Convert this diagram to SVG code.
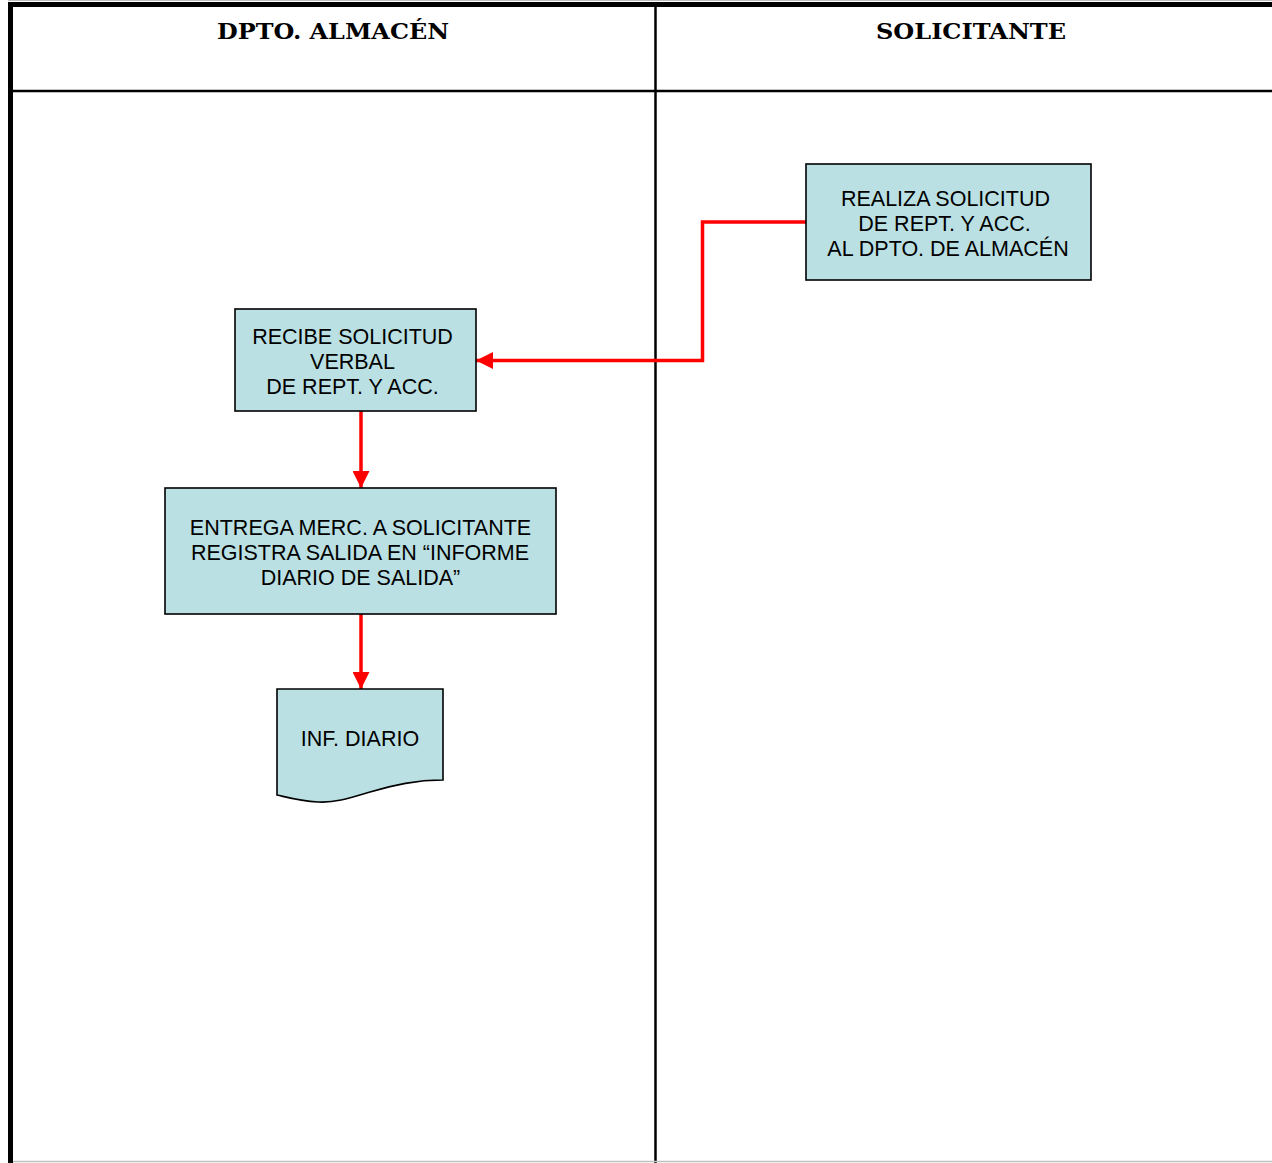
<svg xmlns="http://www.w3.org/2000/svg" width="1272" height="1163" viewBox="0 0 1272 1163">
  <style>
    .lane-title { font-family: "DejaVu Serif", "Liberation Serif", serif; font-weight: bold; font-size: 23px; fill: #000; }
    .box { fill: #BBE0E3; stroke: #000; stroke-width: 1.6; }
    .label { font-family: "Liberation Sans", Arial, sans-serif; font-size: 21.5px; fill: #000; text-anchor: middle; }
    .flow { fill: none; stroke: #FF0000; stroke-width: 3.5; marker-end: url(#arrow); }
  </style>
  <defs>
    <marker id="arrow" markerWidth="17" markerHeight="17" refX="17" refY="8.5" orient="auto" markerUnits="userSpaceOnUse">
      <path d="M0,0 L17,8.5 L0,17 Z" fill="#FF0000"/>
    </marker>
  </defs>

  <rect width="1272" height="1163" fill="#FFFFFF"/>

  <!-- swimlane table -->
  <g id="lanes">
    <line x1="8" y1="0.5" x2="1272" y2="0.5" stroke="#BDBDBD" stroke-width="1"/>
    <line x1="8" y1="4.5" x2="1272" y2="4.5" stroke="#000" stroke-width="5"/>
    <line x1="10.5" y1="2" x2="10.5" y2="1163" stroke="#000" stroke-width="5"/>
    <line x1="8" y1="91" x2="1272" y2="91" stroke="#000" stroke-width="2.5"/>
    <line x1="655.5" y1="4" x2="655.5" y2="1163" stroke="#000" stroke-width="2.5"/>
    <line x1="13" y1="1161.5" x2="1272" y2="1161.5" stroke="#C0C0C0" stroke-width="1.5"/>
    <text class="lane-title" x="333" y="39" text-anchor="middle" textLength="232" lengthAdjust="spacingAndGlyphs">DPTO. ALMACÉN</text>
    <text class="lane-title" x="971" y="39" text-anchor="middle" textLength="190" lengthAdjust="spacingAndGlyphs">SOLICITANTE</text>
  </g>

  <!-- connectors -->
  <g id="connectors">
    <path class="flow" d="M806,222 H702.5 V360.5 H476"/>
    <path class="flow" d="M361,411 V488"/>
    <path class="flow" d="M361,614 V689"/>
  </g>

  <g id="node-realiza">
    <rect class="box" x="806" y="164" width="285" height="116"/>
    <text class="label"><tspan x="945.5" y="205.5">REALIZA SOLICITUD</tspan><tspan x="944.5" y="230.5">DE REPT. Y ACC.</tspan><tspan x="948" y="255.5">AL DPTO. DE ALMACÉN</tspan></text>
  </g>

  <g id="node-recibe">
    <rect class="box" x="235" y="309" width="241" height="102"/>
    <text class="label"><tspan x="352.5" y="343.5">RECIBE SOLICITUD</tspan><tspan x="352.5" y="368.5">VERBAL</tspan><tspan x="352.5" y="393.5">DE REPT. Y ACC.</tspan></text>
  </g>

  <g id="node-entrega">
    <rect class="box" x="165" y="488" width="391" height="126"/>
    <text class="label"><tspan x="360.5" y="534.5">ENTREGA MERC. A SOLICITANTE</tspan><tspan x="360" y="559.5">REGISTRA SALIDA EN “INFORME</tspan><tspan x="360.5" y="584.5">DIARIO DE SALIDA”</tspan></text>
  </g>

  <g id="node-informe">
    <path class="box" d="M277,689 H443 V780 C415,780 395,785 370,792 C350,798 335,803 318,802 C300,801 290,798 277,795 Z"/>
    <text class="label" x="360" y="745.5">INF. DIARIO</text>
  </g>
</svg>
